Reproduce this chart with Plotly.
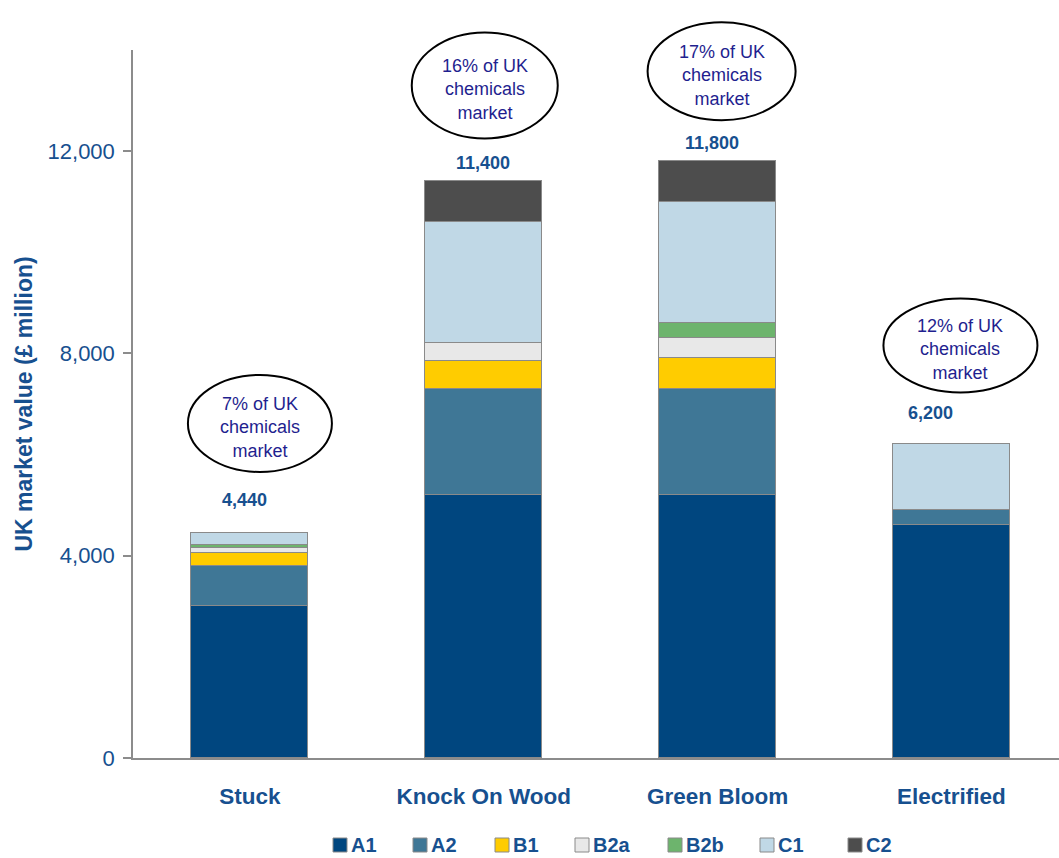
import plotly.graph_objects as go

# Scenario categories and stacked market segments (£ million)
scenarios = ["Stuck", "Knock On Wood", "Green Bloom", "Electrified"]
segments = ["A1", "A2", "B1", "B2a", "B2b", "C1", "C2"]

a1 = [3000, 5200, 5200, 4600]
a2 = [800, 2100, 2100, 300]
b1 = [250, 550, 600, 0]
b2a = [110, 350, 400, 0]
b2b = [50, 0, 300, 0]
c1 = [230, 2400, 2400, 1300]
c2 = [0, 800, 800, 0]

totals = [4440, 11400, 11800, 6200]
total_labels = ["4,440", "11,400", "11,800", "6,200"]
share_labels = ["7% of UK", "16% of UK", "17% of UK", "12% of UK"]

y_ticks = [0, 4000, 8000, 12000]
y_tick_text = ["0", "4,000", "8,000", "12,000"]

series = [a1, a2, b1, b2a, b2b, c1, c2]
colors = ["#00467f", "#3f7796", "#ffcc00", "#e8e8e8", "#6db46d", "#c0d8e6", "#4d4d4d"]

BLUE = "#17508f"
NAVY = "#1f1f8f"
AXIS = "#8c8c8c"
EDGE = "#8a8a8a"
FONT = "Liberation Sans, Arial"

W, H = 1059, 858
M_L, M_R, M_T, M_B = 133, 0, 50, 100
Y_MAX = 14000
X_RANGE = [-0.5, 3.46]

fig = go.Figure()
for name, vals, col in zip(segments, series, colors):
    fig.add_trace(go.Bar(
        x=list(range(len(scenarios))), y=vals, name=name,
        marker=dict(color=col, line=dict(color=EDGE, width=1)),
        width=0.5, hoverinfo="name+y",
    ))

# helpers to place decorations relative to the plotting area
plot_w = W - M_L - M_R
plot_h = H - M_T - M_B


def x_paper(xv):
    return (xv - X_RANGE[0]) / (X_RANGE[1] - X_RANGE[0])


def px_to_paper(px, py):
    return (px - M_L) / plot_w, (H - M_B - py) / plot_h


px_per_unit = plot_h / Y_MAX

# total value labels above each stack
label_yshift = [21, 6, 6, 19]
label_xshift = [-5, -1, -6, -21]
for i, (t, lab) in enumerate(zip(totals, total_labels)):
    fig.add_annotation(
        x=i, y=t, text=f"<b>{lab}</b>", showarrow=False,
        yanchor="bottom", yshift=label_yshift[i], xshift=label_xshift[i],
        font=dict(family=FONT, size=18, color=BLUE),
    )

# share-of-market bubbles: centre offset (px) from each bar top, and size (px)
bubble_dx = [10, 1, 4, 9]
bubble_dy = [110, 96, 90, 99]
bubble_w = [144, 146, 148, 154]
bubble_h = [97, 106, 98, 94]
for i, t in enumerate(totals):
    cx_px = x_paper(i) * plot_w + bubble_dx[i]
    cy_px = t * px_per_unit + bubble_dy[i]
    fig.add_shape(
        type="circle", xref="paper", yref="paper",
        x0=(cx_px - bubble_w[i] / 2) / plot_w, x1=(cx_px + bubble_w[i] / 2) / plot_w,
        y0=(cy_px - bubble_h[i] / 2) / plot_h, y1=(cy_px + bubble_h[i] / 2) / plot_h,
        line=dict(color="#000000", width=2), fillcolor="#ffffff", layer="above",
    )
    fig.add_annotation(
        xref="paper", yref="paper", x=cx_px / plot_w, y=(cy_px - 4.5) / plot_h,
        text=f"{share_labels[i]}<br>chemicals<br>market", showarrow=False,
        xanchor="center", yanchor="middle", align="center",
        font=dict(family=FONT, size=18, color=NAVY),
    )

# key row beneath the chart: swatch left edges in px
key_left = [333, 413, 495, 575, 668, 760, 848]
key_y = 845
sw = 14
for name, col, left in zip(segments, colors, key_left):
    x0, y0 = px_to_paper(left, key_y + sw / 2)
    x1, y1 = px_to_paper(left + sw, key_y - sw / 2)
    fig.add_shape(
        type="rect", xref="paper", yref="paper", x0=x0, x1=x1, y0=y0, y1=y1,
        line=dict(color=EDGE, width=1), fillcolor=col,
    )
    tx, ty = px_to_paper(left + sw + 3, key_y)
    fig.add_annotation(
        xref="paper", yref="paper", x=tx, y=ty, text=f"<b>{name}</b>",
        showarrow=False, xanchor="left", yanchor="middle", borderpad=0,
        font=dict(family=FONT, size=20, color=BLUE),
    )

fig.update_layout(
    width=W, height=H,
    margin=dict(l=M_L, r=M_R, t=M_T, b=M_B, autoexpand=False),
    barmode="stack", bargap=0,
    plot_bgcolor="#ffffff", paper_bgcolor="#ffffff",
    showlegend=False,
    xaxis=dict(
        range=X_RANGE, tickmode="array", tickvals=list(range(len(scenarios))),
        ticktext=[f"<b>{s}</b>" for s in scenarios],
        showline=True, linecolor=AXIS, linewidth=1.5, ticks="", showgrid=False,
        zeroline=False,
        tickfont=dict(family=FONT, size=22.5, color=BLUE),
        ticklabelstandoff=17,
    ),
    yaxis=dict(
        range=[0, Y_MAX], tickmode="array", tickvals=y_ticks, ticktext=y_tick_text,
        showline=True, linecolor=AXIS, linewidth=1.5, ticks="outside", ticklen=8,
        tickcolor=AXIS, tickwidth=1.5, showgrid=False, zeroline=False,
        tickfont=dict(family=FONT, size=22, color=BLUE),
        ticklabelstandoff=4,
        title=dict(
            text="<b>UK market value (£ million)</b>", standoff=9,
            font=dict(family="Liberation Sans Narrow, Arial Narrow, Liberation Sans", size=23, color=BLUE),
        ),
    ),
)

fig.write_html("out.html")
